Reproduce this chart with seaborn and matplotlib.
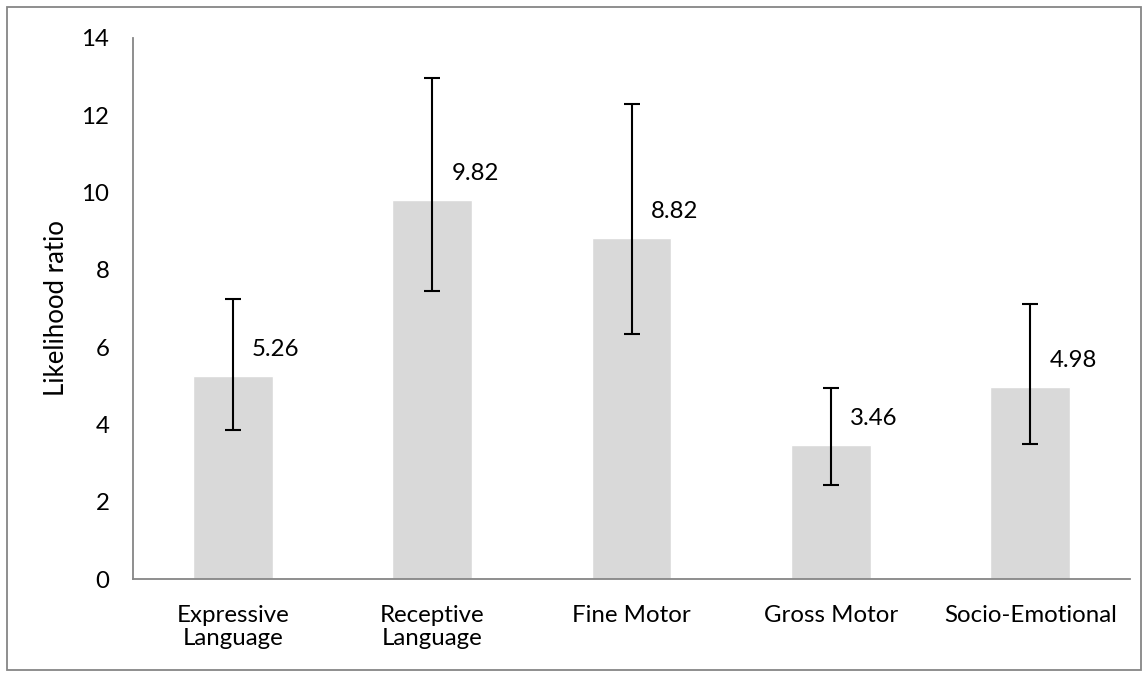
"""Likelihood ratio by developmental domain, bar chart with asymmetric error bars."""

import numpy as np
import matplotlib
import matplotlib.pyplot as plt
import seaborn as sns

matplotlib.use("Agg")

CATEGORIES = ["Expressive\nLanguage", "Receptive\nLanguage", "Fine Motor",
              "Gross Motor", "Socio-Emotional"]
MEANS = [5.26, 9.82, 8.82, 3.46, 4.98]
LOWER = [3.85, 7.46, 6.34, 2.42, 3.50]
UPPER = [7.25, 12.97, 12.29, 4.93, 7.11]
VALUE_LABELS = ["5.26", "9.82", "8.82", "3.46", "4.98"]
Y_TICKS = [0, 2, 4, 6, 8, 10, 12, 14]

BAR_COLOR = "#d9d9d9"
AXIS_COLOR = "#868686"
TEXT_COLOR = "#000000"
FONT_SIZE = 17.3


def main() -> None:
    sns.set_style("white")
    plt.rcParams["font.family"] = ["Lato", "DejaVu Sans"]

    fig = plt.figure(figsize=(11.48, 6.77), dpi=100)
    ax = fig.add_axes([133 / 1148, 1 - 579 / 677, (1130 - 133) / 1148, (579 - 38) / 677])

    sns.barplot(x=CATEGORIES, y=MEANS, color=BAR_COLOR, width=0.4,
                saturation=1, ax=ax)

    means = np.array(MEANS)
    yerr = [means - np.array(LOWER), np.array(UPPER) - means]
    xs = np.arange(len(CATEGORIES))
    ax.errorbar(xs, means, yerr=yerr, fmt="none", ecolor="black",
                elinewidth=1.5, capsize=6, capthick=1.5)

    for x, m, lab in zip(xs, MEANS, VALUE_LABELS):
        ax.annotate(lab, (x, m), xytext=(14, 19), textcoords="offset points",
                    ha="left", va="center", fontsize=FONT_SIZE, color=TEXT_COLOR)

    ax.set_xlim(-0.5, len(CATEGORIES) - 0.5)
    ax.set_ylim(0, 14)
    ax.set_yticks(Y_TICKS)
    ax.set_yticklabels([str(t) for t in Y_TICKS], fontsize=FONT_SIZE, color=TEXT_COLOR)

    # category boundary ticks (major), labels on minor ticks at bar centres
    ax.set_xticks(np.arange(-0.5, len(CATEGORIES), 1.0))
    ax.set_xticklabels([])
    ax.set_xticks(xs, minor=True)
    ax.set_xticklabels(CATEGORIES, minor=True, fontsize=FONT_SIZE, color=TEXT_COLOR,
                       linespacing=1.12)
    ax.tick_params(axis="x", which="major", direction="out", length=5,
                   width=1.3, color=AXIS_COLOR)
    ax.tick_params(axis="x", which="minor", length=0, pad=19)
    ax.tick_params(axis="y", direction="out", length=6, width=1.3,
                   color=AXIS_COLOR, pad=11)

    ax.set_ylabel("Likelihood ratio", fontsize=18.5, color=TEXT_COLOR, labelpad=9)
    ax.set_xlabel("")

    for side in ["top", "right"]:
        ax.spines[side].set_visible(False)
    for side in ["left", "bottom"]:
        ax.spines[side].set_color(AXIS_COLOR)
        ax.spines[side].set_linewidth(1.3)

    # outer chart border
    border = plt.Rectangle((7 / 1148, 7 / 677), 1 - 14 / 1148, 1 - 14 / 677,
                           transform=fig.transFigure, fill=False,
                           edgecolor=AXIS_COLOR, linewidth=1.3)
    fig.patches.append(border)

    fig.savefig("out.png", dpi=100)
    plt.close(fig)


if __name__ == "__main__":
    main()
